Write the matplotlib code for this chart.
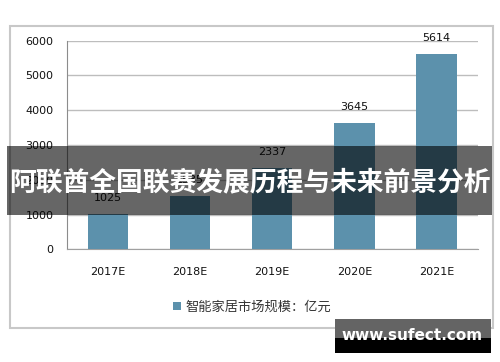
import matplotlib.pyplot as plt
from matplotlib.patches import Rectangle

plt.rcParams['font.family'] = ['DejaVu Sans', 'Noto Sans CJK SC']

# --- dane ---
years = ["2017E", "2018E", "2019E", "2020E", "2021E"]
market_size = [1025, 1535, 2337, 3645, 5614]
legend_label = "智能家居市场规模：亿元"
banner_title = "阿联酋全国联赛发展历程与未来前景分析"
watermark = "www.sufect.com"
y_ticks = [0, 1000, 2000, 3000, 4000, 5000, 6000]

bar_color = "#5C91AC"
W, H = 500, 362

fig = plt.figure(figsize=(W / 100, H / 100), dpi=100)
fig.patch.set_facecolor("white")

# ramka wykresu
fig.add_artist(Rectangle((10 / W, 1 - 328 / H), 483 / W, 302 / H, transform=fig.transFigure,
                         fill=False, edgecolor="#C8C8C8", linewidth=1.5, zorder=0))

ax = fig.add_axes([66.7 / W, 1 - 249.3 / H, 411 / W, 208.6 / H])
x = list(range(len(years)))
bars = ax.bar(x, market_size, width=0.49, color=bar_color, zorder=3, label=legend_label)

ax.set_xlim(-0.5, len(years) - 0.5)
ax.set_ylim(0, 6000)
ax.set_yticks(y_ticks)
ax.set_xticks(x)
ax.set_xticklabels(years)
ax.tick_params(axis="both", length=0, labelsize=8, labelcolor="#111111")
ax.tick_params(axis="y", pad=9.5)
ax.tick_params(axis="x", pad=13)

ax.grid(axis="y", color="#BDBDBD", linewidth=1, zorder=0)
for side in ["top", "right"]:
    ax.spines[side].set_visible(False)
ax.spines["left"].set_color("#8C8C8C")
ax.spines["bottom"].set_color("#A0A0A0")

# etykiety wartości
for xi, v in zip(x, market_size):
    ax.annotate(str(v), (xi, v), xytext=(0, 11.5), textcoords="offset points",
                ha="center", va="center", fontsize=8, color="#111111")

# legenda
ax.legend(loc="center", bbox_to_anchor=(252 / W, 1 - 307 / H), bbox_transform=fig.transFigure,
          frameon=False, fontsize=9.5, handlelength=0.6, handleheight=0.6, handletextpad=0.3,
          labelcolor="#333333")

# pasek z tytułem
fig.add_artist(Rectangle((7 / W, 1 - 215 / H), 485 / W, 69 / H, transform=fig.transFigure,
                         facecolor="black", alpha=0.6, edgecolor="none", zorder=10))
fig.text(250 / W, 1 - 182 / H, banner_title, ha="center", va="center", color="white",
         fontsize=19.3, fontweight="bold", family=["Noto Sans CJK SC"], zorder=11)

# znak wodny
fig.add_artist(Rectangle((335 / W, 1 - 338 / H), 156 / W, 19 / H, transform=fig.transFigure,
                         facecolor="#646464", edgecolor="none", zorder=10))
fig.add_artist(Rectangle((335 / W, 1 - 353 / H), 156 / W, 15 / H, transform=fig.transFigure,
                         facecolor="black", edgecolor="none", zorder=10))
fig.text(412 / W, 1 - 336 / H, watermark, ha="center", va="center", color="white",
         fontsize=11, fontweight="bold", zorder=11)

fig.savefig("out.png", dpi=100)
